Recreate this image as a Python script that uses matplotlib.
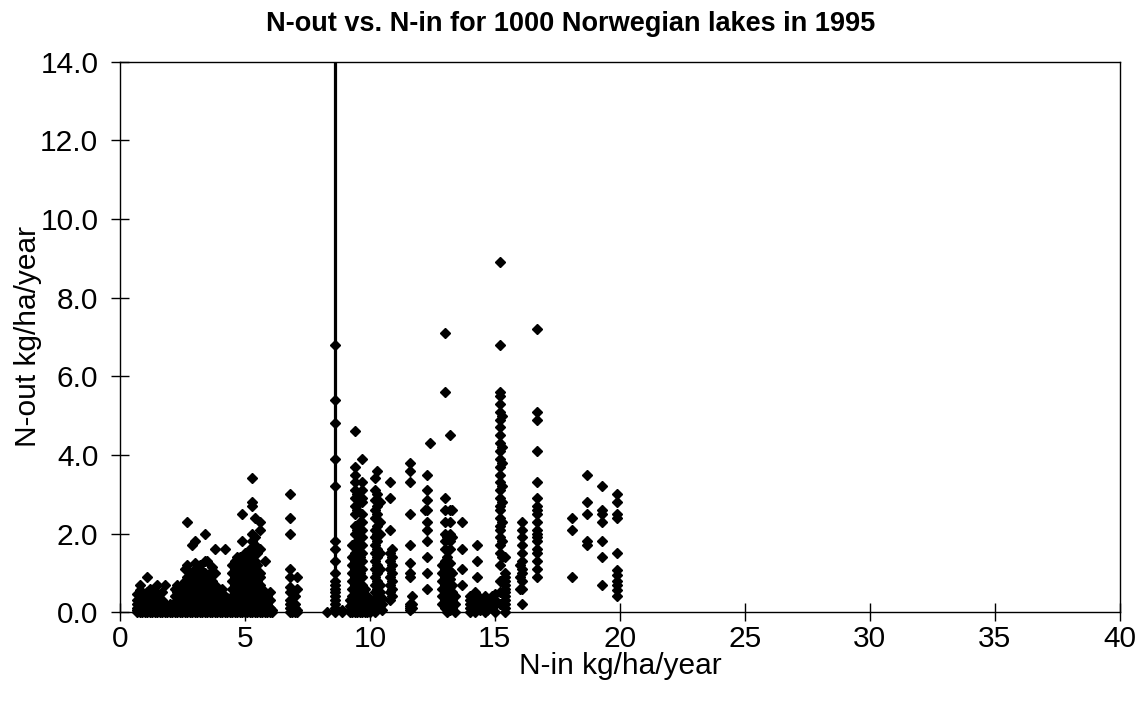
import matplotlib
matplotlib.use("Agg")
from matplotlib import pyplot as plt

plt.rcParams['font.family'] = ['Liberation Sans', 'DejaVu Sans']

# N-in (x) columns and the N-out values (y) measured at each one, kg/ha/year
grp1_x = [0.7, 0.8, 0.9, 1.0, 1.1, 1.2, 1.3, 1.4, 1.5, 1.6, 1.7, 1.8, 1.9, 2.0, 2.1, 2.2, 2.3, 2.4, 2.5]
grp1_y = [[0, 0.05, 0.1, 0.2, 0.3, 0.45],
          [0, 0.1, 0.2, 0.3, 0.4, 0.5, 0.56, 0.7],
          [0, 0.05, 0.15, 0.25, 0.35],
          [0, 0.1, 0.2, 0.3, 0.45],
          [0, 0.05, 0.15, 0.3, 0.5, 0.9],
          [0, 0.1, 0.2, 0.35, 0.6],
          [0, 0.05, 0.15, 0.25],
          [0, 0.1, 0.2, 0.4, 0.55],
          [0, 0.05, 0.15, 0.3, 0.7],
          [0, 0.1, 0.25],
          [0, 0.05, 0.15, 0.3, 0.5],
          [0, 0.1, 0.2, 0.7],
          [0, 0.05, 0.15],
          [0, 0.1, 0.2],
          [0, 0.05],
          [0, 0.1, 0.2, 0.4, 0.6],
          [0, 0.05, 0.15, 0.3, 0.5, 0.7],
          [0, 0.1, 0.2, 0.4, 0.65],
          [0, 0.05, 0.2, 0.35, 0.5]]

grp2_x = [2.6, 2.7, 2.8, 2.9, 3.0, 3.1, 3.2, 3.3, 3.4, 3.5, 3.6, 3.7, 3.8, 3.9, 4.0, 4.1, 4.2, 4.3, 4.4]
grp2_y = [[0, 0.1, 0.25, 0.4, 0.6, 0.8, 1.1],
          [0, 0.05, 0.15, 0.3, 0.45, 0.6, 0.75, 0.9, 1.2, 2.3],
          [0, 0.1, 0.2, 0.35, 0.5, 0.65, 0.85, 1.0],
          [0, 0.05, 0.15, 0.3, 0.45, 0.6, 0.8, 1.7],
          [0, 0.1, 0.25, 0.4, 0.55, 0.7, 0.9, 1.1, 1.25, 1.8],
          [0, 0.05, 0.2, 0.35, 0.5, 0.65, 0.8, 0.95],
          [0, 0.1, 0.25, 0.4, 0.55, 0.7, 0.85, 1.0, 1.2],
          [0, 0.05, 0.15, 0.3, 0.45, 0.6, 0.75, 0.9, 1.05],
          [0, 0.1, 0.2, 0.35, 0.5, 0.65, 0.8, 1.0, 1.3, 2.0],
          [0, 0.05, 0.15, 0.3, 0.45, 0.6, 0.75, 0.9, 1.3],
          [0, 0.1, 0.25, 0.4, 0.55, 0.7, 0.85, 1.0],
          [0, 0.05, 0.2, 0.35, 0.5, 0.65, 0.8, 1.15],
          [0, 0.1, 0.25, 0.4, 0.55, 0.7, 1.0, 1.6],
          [0, 0.05, 0.15, 0.3, 0.45, 0.6],
          [0, 0.1, 0.2, 0.35, 0.5],
          [0, 0.05, 0.15, 0.3, 0.45, 0.6],
          [0, 0.1, 0.25, 0.4, 1.6],
          [0, 0.05, 0.2, 0.35],
          [0, 0.1, 0.25]]

grp3_x = [4.5, 4.6, 4.7, 4.8, 4.9, 5.0, 5.1, 5.2, 5.3, 5.4, 5.5, 5.6, 5.7, 5.8, 5.9, 6.0, 6.1,
          6.8, 6.9, 7.0, 7.1]
grp3_y = [[0, 0.05, 0.2, 0.4, 0.6, 0.8, 1.0, 1.2],
          [0, 0.1, 0.3, 0.5, 0.7, 0.9, 1.1, 1.3],
          [0, 0.05, 0.2, 0.4, 0.6, 0.8, 1.0, 1.2, 1.4],
          [0, 0.1, 0.3, 0.5, 0.7, 0.9, 1.1, 1.3, 1.4],
          [0, 0.05, 0.2, 0.4, 0.6, 0.8, 1.0, 1.2, 1.4, 1.8, 2.5],
          [0, 0.1, 0.3, 0.5, 0.7, 0.9, 1.1, 1.3, 1.5],
          [0, 0.05, 0.2, 0.4, 0.6, 0.8, 1.0, 1.2, 1.45],
          [0, 0.1, 0.3, 0.5, 0.7, 0.9, 1.1, 1.3, 1.5, 1.6],
          [0, 0.05, 0.2, 0.4, 0.6, 0.8, 1.0, 1.2, 1.4, 1.6, 1.8, 2.0, 2.7, 2.8, 3.4],
          [0, 0.1, 0.3, 0.5, 0.7, 0.9, 1.1, 1.3, 1.5, 1.7, 1.9, 2.4],
          [0, 0.05, 0.2, 0.4, 0.6, 0.8, 1.0, 1.2, 1.5],
          [0, 0.1, 0.3, 0.5, 0.7, 0.9, 1.0, 1.6, 2.1, 2.3],
          [0, 0.05, 0.2, 0.4, 0.6],
          [0, 0.1, 0.3, 1.3],
          [0, 0.05, 0.2, 0.4],
          [0, 0.1, 0.3, 0.5],
          [0, 0.05],
          [0, 0.1, 0.2, 0.3, 0.5, 0.65, 0.9, 1.1, 2.0, 2.4, 3.0],
          [0, 0.05, 0.15, 0.25],
          [0, 0.1, 0.2, 0.4],
          [0, 0.05, 0.6, 0.9]]

grp4_x = [8.3, 8.6, 8.9, 9.2, 9.3, 9.4, 9.5, 9.6, 9.7, 9.8, 9.9, 10.0,
          10.2, 10.3, 10.4, 10.5, 10.8, 10.9]
grp4_y = [[0.0],
          [0, 0.05, 0.1, 0.2, 0.3, 0.4, 0.5, 0.6, 0.7, 0.8, 1.0, 1.3, 1.6, 1.8, 3.2, 3.9, 4.8, 5.4, 6.8],
          [0.0, 0.05],
          [0, 0.05, 0.15, 0.3],
          [0, 0.1, 0.25, 0.4, 0.6, 0.8, 1.0, 1.2, 1.4, 1.7],
          [0, 0.05, 0.2, 0.35, 0.5, 0.7, 0.9, 1.1, 1.3, 1.5, 1.75, 2.0, 2.2, 2.5, 2.7, 2.9, 3.1, 3.3,
           3.5, 3.7, 4.6],
          [0, 0.1, 0.3, 0.5, 0.8, 1.2, 1.6, 2.1, 2.6, 3.0],
          [0, 0.05, 0.2, 0.4, 0.6, 1.0, 1.4, 1.9, 2.3, 2.8],
          [0, 0.1, 0.3, 0.5, 0.7, 0.9, 1.1, 1.3, 1.5, 1.7, 1.9, 2.1, 2.3, 2.5, 2.8, 2.9, 3.1, 3.3, 3.9],
          [0, 0.05, 0.2, 0.35, 0.6],
          [0, 0.1, 0.25, 0.4],
          [0, 0.05, 0.2, 0.3],
          [0, 0.1, 0.3, 0.5, 0.7, 0.9, 1.1, 1.3, 1.5, 1.7, 1.9, 2.1, 2.4, 2.6, 2.85, 3.1, 3.4],
          [0.2, 0.4, 0.6, 0.8, 1.0, 1.2, 1.4, 1.6, 1.8, 2.0, 2.2, 2.5, 2.7, 3.0, 3.6],
          [0.1, 0.3, 0.5, 0.7, 1.1, 1.5, 2.0, 2.3, 2.8],
          [0.05, 0.2, 0.35],
          [0.3, 0.5, 0.7, 0.9, 1.1, 1.3, 1.5, 2.1, 2.9, 3.3],
          [0.4, 0.6, 0.8, 1.0, 1.2, 1.4, 1.6]]

grp5_x = [11.6, 11.7, 12.2, 12.3, 12.4, 12.9, 13.0, 13.1, 13.2, 13.3, 13.4, 13.7,
          14.0, 14.1, 14.2, 14.3, 14.4, 14.6, 14.7, 14.9]
grp5_y = [[0.05, 0.1, 0.15, 0.2, 0.9, 1.0, 1.25, 1.7, 2.5, 3.3, 3.6, 3.8],
          [0.1, 0.2, 0.4],
          [2.6],
          [0.6, 1.0, 1.4, 1.8, 2.1, 2.3, 2.6, 2.85, 3.1, 3.5],
          [4.3],
          [0.2, 0.4, 0.6, 0.8, 1.0, 1.2],
          [0.1, 0.3, 0.5, 0.7, 0.9, 1.1, 1.3, 1.6, 1.8, 2.0, 2.3, 2.6, 2.9, 5.6, 7.1],
          [0.0, 0.2, 0.4, 0.6, 0.8, 1.0, 1.2, 1.4, 1.9],
          [0.05, 0.25, 0.45, 0.65, 0.85, 1.05, 1.25, 1.6, 1.8, 2.0, 2.3, 2.6, 4.5],
          [0.1, 0.3, 0.5, 0.7, 1.0, 1.9, 2.6],
          [0.0, 0.2, 0.4],
          [0.7, 1.1, 1.6, 2.3],
          [0.0, 0.1, 0.2, 0.3, 0.4],
          [0.05, 0.15, 0.25],
          [0.0, 0.1, 0.2, 0.3, 0.5],
          [0.9, 1.3, 1.7],
          [0.05, 0.15, 0.25, 0.35],
          [0.0, 0.1, 0.2, 0.3, 0.4],
          [0.05, 0.15, 0.3],
          [0.1, 0.2, 0.4]]

grp6_x = [15.0, 15.2, 15.3, 15.4, 16.0, 16.1, 16.7, 18.1, 18.7, 19.3, 19.9]
grp6_y = [[0.0, 0.2, 0.3, 0.45],
          [0.2, 0.5, 0.8, 1.2, 1.5, 1.7, 1.9, 2.1, 2.2, 2.4, 2.6, 2.7, 2.9, 3.1, 3.3, 3.5, 3.7, 3.9,
           4.1, 4.3, 4.5, 4.7, 4.9, 5.1, 5.3, 5.5, 5.6, 6.8, 8.9],
          [1.4, 1.8, 2.3, 2.8, 3.2, 3.8, 4.2, 5.0],
          [0.0, 0.1, 0.2, 0.3, 0.4, 0.5, 0.6, 0.7, 0.8, 0.9, 1.0, 1.4],
          [0.6, 0.9, 1.2],
          [0.2, 0.6, 0.8, 1.0, 1.1, 1.3, 1.5, 1.7, 1.9, 2.1, 2.3],
          [0.9, 1.1, 1.3, 1.5, 1.6, 1.8, 1.9, 2.0, 2.1, 2.3, 2.5, 2.6, 2.7, 2.9, 3.3, 4.1, 4.9, 5.1, 7.2],
          [0.9, 2.1, 2.4],
          [1.7, 1.8, 2.5, 2.8, 3.5],
          [0.7, 1.4, 1.8, 2.3, 2.5, 2.6, 3.2],
          [0.4, 0.56, 0.7, 0.8, 0.95, 1.07, 1.5, 2.4, 2.5, 2.8, 3.0]]

# the single lake whose value runs off the top of the chart
spike_x = 8.6

x_ticks = [0, 5, 10, 15, 20, 25, 30, 35, 40]
y_ticks = [0, 2, 4, 6, 8, 10, 12, 14]

n_in, n_out = [], []
for gx, gy in [(grp1_x, grp1_y), (grp2_x, grp2_y), (grp3_x, grp3_y),
               (grp4_x, grp4_y), (grp5_x, grp5_y), (grp6_x, grp6_y)]:
    for x, ys in zip(gx, gy):
        n_in.extend([x] * len(ys))
        n_out.extend(ys)

fig = plt.figure(figsize=(11.41, 7.02), dpi=100)
ax = fig.add_axes([0.105, 0.128, 0.8765, 0.784])

ax.axvline(spike_x, color="black", linewidth=2.3, zorder=2)
ax.plot(n_in, n_out, linestyle="none", marker="D", markersize=4.8,
        color="black", clip_on=False, zorder=3)

ax.set_xlim(0, 40)
ax.set_ylim(0, 14)
ax.set_xticks(x_ticks)
ax.set_yticks(y_ticks)
ax.set_yticklabels(["{:.1f}".format(v) for v in y_ticks])
ax.tick_params(direction="inout", length=13, width=1, color="black", labelsize=21.5)
ax.tick_params(axis="x", pad=3)
ax.tick_params(axis="y", pad=9)
for s in ax.spines.values():
    s.set_linewidth(1.0)
    s.set_color("black")

ax.set_xlabel("N-in kg/ha/year", fontsize=21.5, labelpad=-1)
ax.set_ylabel("N-out kg/ha/year", fontsize=21.5, labelpad=-1)
fig.suptitle("N-out vs. N-in for 1000 Norwegian lakes in 1995", fontsize=19.5,
             fontweight="bold", x=0.5, y=0.985)

plt.savefig("out.png", dpi=100)
